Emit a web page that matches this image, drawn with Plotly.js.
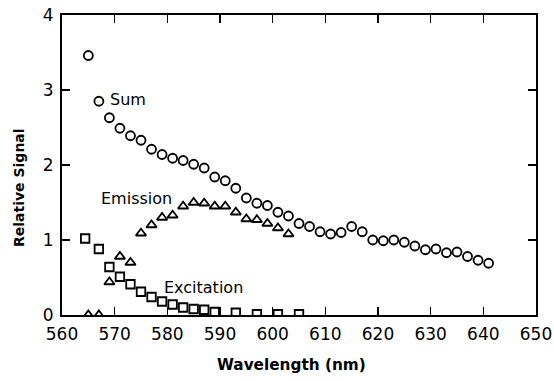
<!DOCTYPE html>
<html>
<head>
<meta charset="utf-8">
<script src="https://cdn.plot.ly/plotly-3.0.1.min.js"></script>
<style>html,body{margin:0;padding:0;background:#fff;}#chart{width:554px;height:381px;}</style>
</head>
<body>
<div id="chart"></div>
<script>
// Sum (circles)
const sumWavelength = [565,567,569,571,573,575,577,579,581,583,585,587,589,591,593,595,597,599,601,603,605,607,609,611,613,615,617,619,621,623,625,627,629,631,633,635,637,639,641];
const sumSignal = [3.46,2.85,2.63,2.49,2.39,2.33,2.21,2.14,2.09,2.06,2.01,1.96,1.84,1.79,1.69,1.56,1.49,1.46,1.37,1.32,1.22,1.18,1.11,1.08,1.10,1.18,1.11,1.00,0.99,1.00,0.97,0.92,0.87,0.88,0.83,0.84,0.78,0.73,0.69];

// Emission (triangles)
const emissionWavelength = [565,567,569,571,573,575,577,579,581,583,585,587,589,591,593,595,597,599,601,603];
const emissionSignal = [0,0,0.44,0.78,0.70,1.09,1.20,1.30,1.33,1.45,1.50,1.49,1.45,1.45,1.37,1.28,1.27,1.22,1.16,1.08];

// Excitation (squares)
const excitationWavelength = [564.4,567,569,571,573,575,577,579,581,583,585,587,589,593,597,601,605];
const excitationSignal = [1.02,0.88,0.64,0.51,0.41,0.31,0.24,0.18,0.14,0.10,0.08,0.07,0.04,0.03,0.01,0.01,0.01];

const xTicks = [560,570,580,590,600,610,620,630,640,650];
const yTicks = [0,1,2,3,4];

const xTitle = 'Wavelength (nm)';
const yTitle = 'Relative Signal';

const labelFont = {family: 'DejaVu Sans, sans-serif', size: 16, color: '#000'};
const titleFontX = {family: 'DejaVu Sans, sans-serif', size: 15.3, color: '#000', weight: 'bold'};
const titleFontY = {family: 'DejaVu Sans, sans-serif', size: 14, color: '#000', weight: 'bold'};

const traces = [
  {x: sumWavelength, y: sumSignal, name: 'Sum', type: 'scatter', mode: 'markers',
   marker: {symbol: 'circle-open', size: 9, color: '#000', line: {width: 1.8, color: '#000'}}},
  {x: emissionWavelength, y: emissionSignal, name: 'Emission', type: 'scatter', mode: 'markers',
   marker: {symbol: 'triangle-up-open', size: 9, color: '#000', line: {width: 1.8, color: '#000'}}},
  {x: excitationWavelength, y: excitationSignal, name: 'Excitation', type: 'scatter', mode: 'markers',
   marker: {symbol: 'square-open', size: 8.5, color: '#000', line: {width: 1.8, color: '#000'}}}
];

const layout = {
  width: 554, height: 381,
  margin: {l: 62, r: 18, t: 15, b: 66},
  paper_bgcolor: '#fff', plot_bgcolor: '#fff',
  showlegend: false,
  font: {family: 'DejaVu Sans, sans-serif', color: '#000'},
  xaxis: {
    range: [560, 650], tickvals: xTicks, ticktext: xTicks.map(String),
    ticks: 'inside', ticklen: 8, tickwidth: 1.5, tickcolor: '#000',
    showline: true, linewidth: 2, linecolor: '#000', mirror: 'allticks',
    showgrid: false, zeroline: false, ticklabelstandoff: 3,
    tickfont: {family: 'DejaVu Sans, sans-serif', size: 17, color: '#000'}
  },
  yaxis: {
    range: [0, 4], tickvals: yTicks, ticktext: yTicks.map(String),
    ticks: 'inside', ticklen: 8, tickwidth: 1.5, tickcolor: '#000',
    showline: true, linewidth: 2, linecolor: '#000', mirror: 'allticks',
    showgrid: false, zeroline: false, ticklabelstandoff: 3,
    tickfont: {family: 'DejaVu Sans, sans-serif', size: 17, color: '#000'}
  },
  annotations: [
    {x: 568.7, y: 2.88, xref: 'x', yref: 'y', text: 'Sum', showarrow: false, xanchor: 'left', font: labelFont},
    {x: 567.1, y: 1.55, xref: 'x', yref: 'y', text: 'Emission', showarrow: false, xanchor: 'left', font: labelFont},
    {x: 578.9, y: 0.37, xref: 'x', yref: 'y', text: 'Excitation', showarrow: false, xanchor: 'left', font: labelFont},
    {x: 0.484, y: -0.166, xref: 'paper', yref: 'paper', text: xTitle, showarrow: false, xanchor: 'center', yanchor: 'middle', font: titleFontX},
    {x: -0.0917, y: 0.425, xref: 'paper', yref: 'paper', text: yTitle, textangle: -90, showarrow: false, xanchor: 'center', yanchor: 'middle', font: titleFontY}
  ]
};

Plotly.newPlot('chart', traces, layout, {displayModeBar: false, staticPlot: true});
</script>
</body>
</html>
